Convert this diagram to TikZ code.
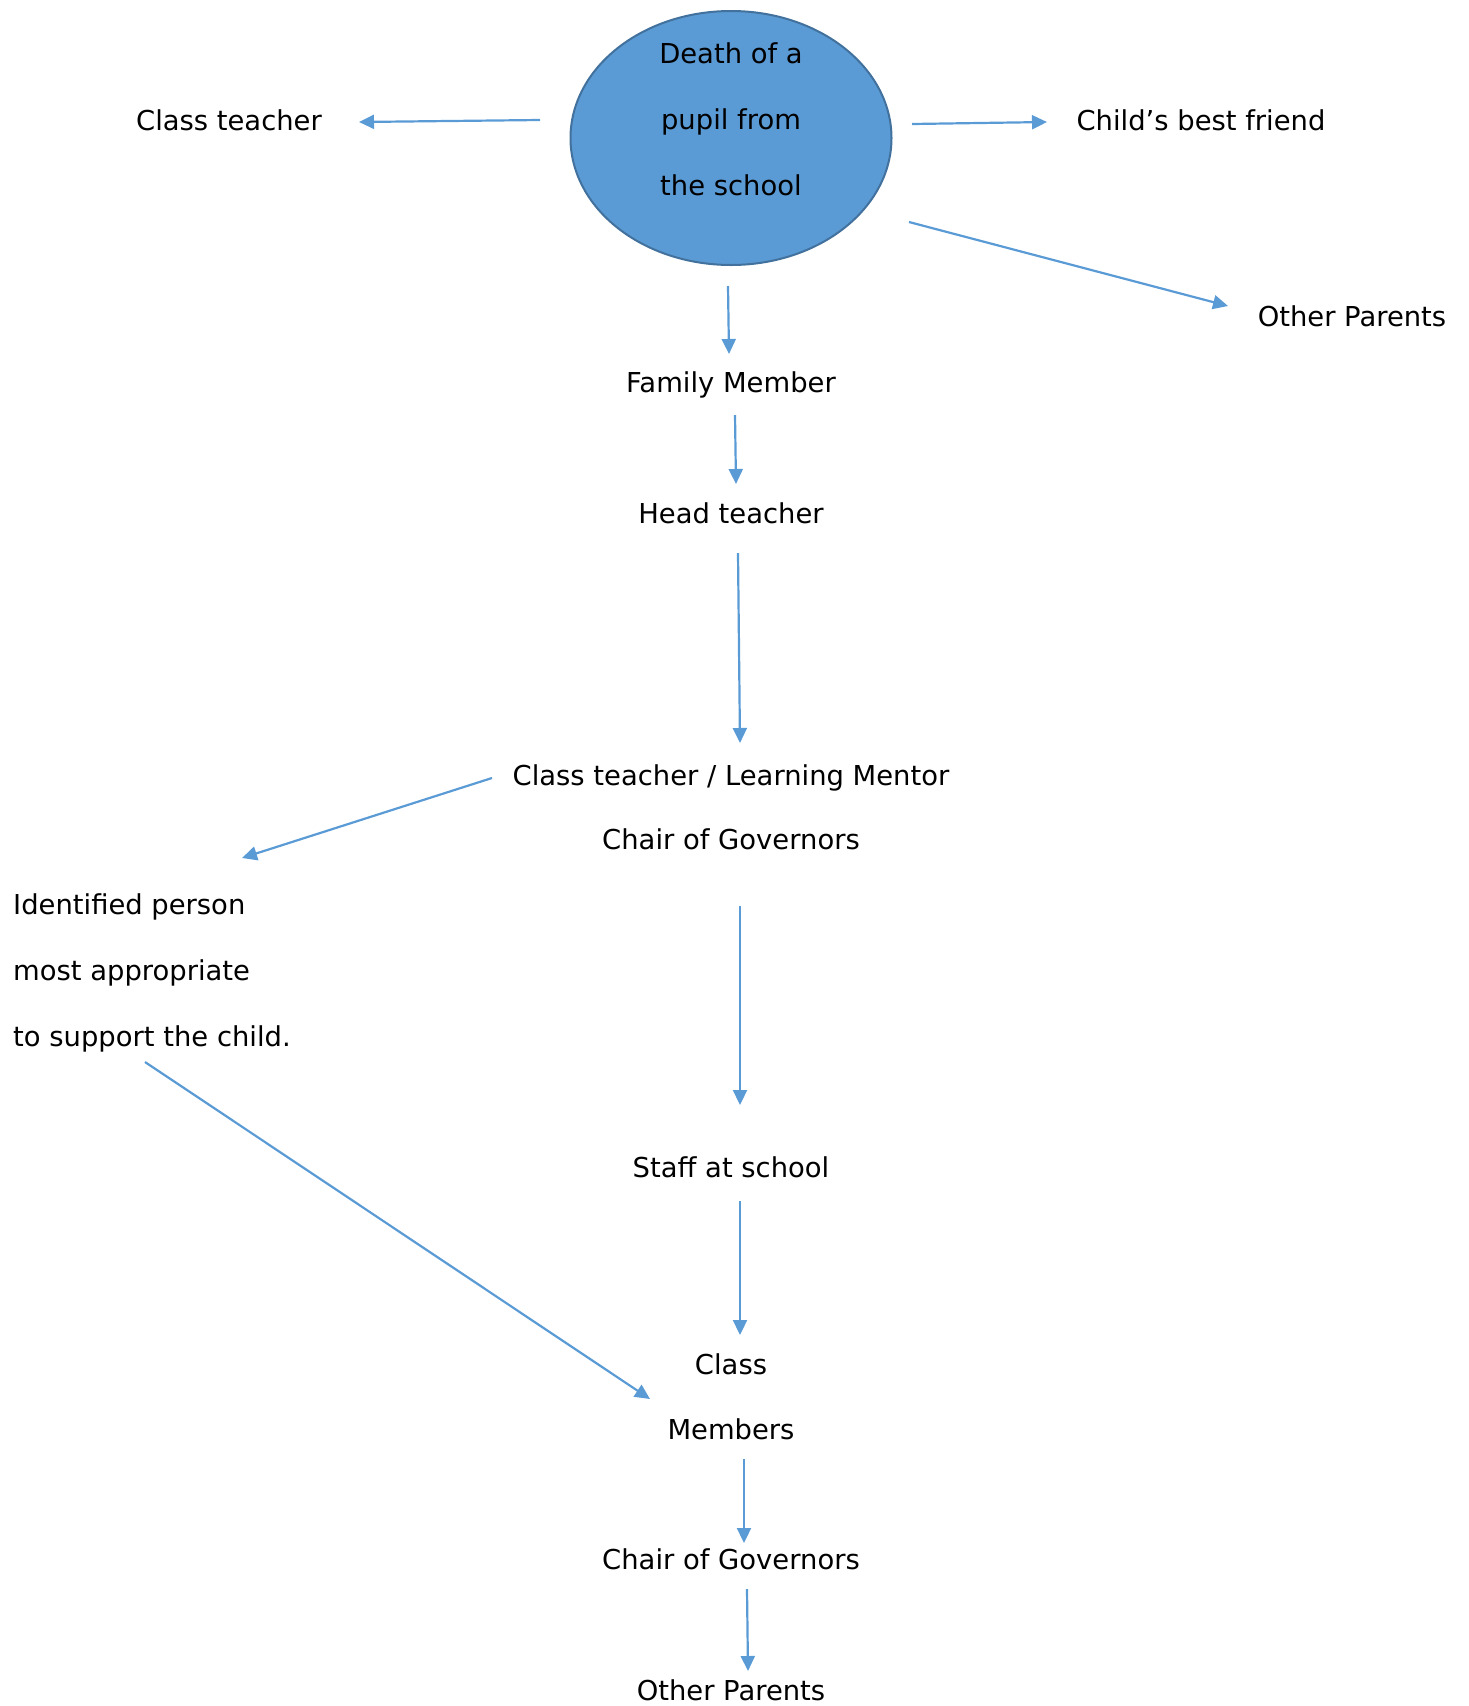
\documentclass[tikz,border=0pt]{standalone}
\usepackage{fontspec}
\setmainfont{DejaVu Sans}
\usetikzlibrary{shapes.geometric,arrows.meta}
\definecolor{arrblue}{HTML}{5B9BD5}
\definecolor{ellfill}{HTML}{5B9BD5}
\definecolor{elldraw}{HTML}{41719C}
\tikzset{
  lbl/.style={inner sep=0pt,anchor=base,align=center,font=\fontsize{27.4}{66}\selectfont},
  arr/.style={draw=arrblue,line width=2.2pt,-{Triangle[length=15pt,width=14pt]}},
  bubble/.style={ellipse,draw=elldraw,fill=ellfill,line width=2pt,minimum width=321pt,minimum height=254pt,inner sep=0pt}
}
\begin{document}
\begin{tikzpicture}[x=1pt,y=-1pt]
\useasboundingbox (0,0) rectangle (1469,1706);
\node[bubble] (death) at (731,138) {};
\node[lbl] (deathtxt) at (731,195) {Death of a\\pupil from\\the school};
\node[lbl] (ct) at (229,130) {Class teacher};
\node[lbl] (cbf) at (1201,130) {Child’s best friend};
\node[lbl] (op1) at (1352,326) {Other Parents};
\node[lbl] (fm) at (731,392) {Family Member};
\node[lbl] (ht) at (731,523) {Head teacher};
\node[lbl,font=\fontsize{27.4}{64}\selectfont] (ctlm) at (731,849) {Class teacher / Learning Mentor\\Chair of Governors};
\node[lbl,anchor=base west,align=left] (ip) at (13,1046) {Identified person\\most appropriate\\to support the child.};
\node[lbl] (sas) at (731,1177) {Staff at school};
\node[lbl,font=\fontsize{27.4}{65}\selectfont] (cm) at (731,1439) {Class\\Members};
\node[lbl] (cog) at (731,1569) {Chair of Governors};
\node[lbl] (op2) at (731,1700) {Other Parents};

\draw[arr] ([shift={(-191,-18)}]death.center) -- ([shift={(130,-8)}]ct.base);
\draw[arr] ([shift={(181,-14)}]death.center) -- ([shift={(-154,-8)}]cbf.base);
\draw[arr] ([shift={(178,84)}]death.center) -- ([shift={(-124,-20)}]op1.base);
\draw[arr] ([shift={(-3,148)}]death.center) -- ([shift={(-2,-38)}]fm.base);
\draw[arr] ([shift={(4,23)}]fm.base) -- ([shift={(5,-39)}]ht.base);
\draw[arr] ([shift={(7,30)}]ht.base) -- ([shift={(9,-106)}]ctlm.base);
\draw[arr] ([shift={(-239,-71)}]ctlm.base) -- ([shift={(229,-188)}]ip.base west);
\draw[arr] ([shift={(9,57)}]ctlm.base) -- ([shift={(9,-72)}]sas.base);
\draw[arr] ([shift={(132,16)}]ip.base west) -- ([shift={(-81,-40)}]cm.base);
\draw[arr] ([shift={(9,24)}]sas.base) -- ([shift={(9,-104)}]cm.base);
\draw[arr] ([shift={(13,20)}]cm.base) -- ([shift={(13,-26)}]cog.base);
\draw[arr] ([shift={(16,20)}]cog.base) -- ([shift={(17,-29)}]op2.base);
\end{tikzpicture}
\end{document}
